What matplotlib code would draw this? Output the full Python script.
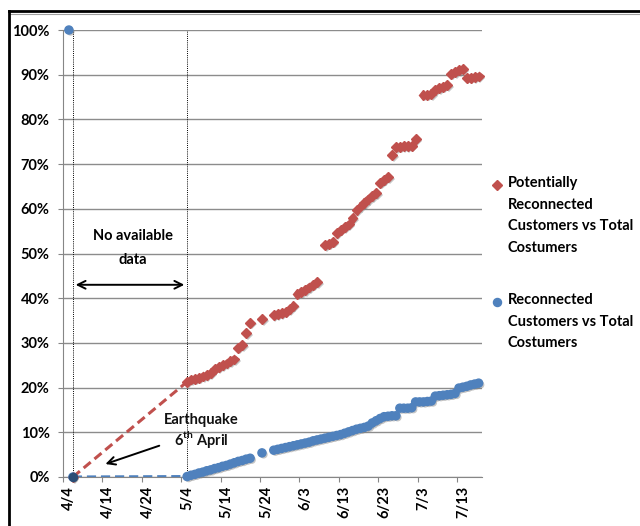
import numpy as np
import matplotlib
matplotlib.use("Agg")
import matplotlib.pyplot as plt
import matplotlib.patheffects as pe
from matplotlib.lines import Line2D

plt.rcParams['font.family'] = ['Lato', 'DejaVu Sans']
plt.rcParams['font.weight'] = 'bold'
plt.rcParams['mathtext.fontset'] = 'custom'
plt.rcParams['mathtext.rm'] = 'Lato:bold'
plt.rcParams['mathtext.bf'] = 'Lato:bold'

# x = days since 4/4
tick_labels = ['4/4', '4/14', '4/24', '5/4', '5/14', '5/24', '6/3', '6/13', '6/23', '7/3', '7/13']
quake_day = 2        # 6th April
data_start_day = 31  # first day with data after the gap

# Potentially reconnected customers vs total (%)
red_days = [2] + list(range(31, 48)) + [50] + list(range(53, 65)) + list(range(66, 90)) + list(range(91, 106))
red_pct = [0.0,
           21.3, 21.8, 22.0, 22.2, 22.5, 22.8, 23.2, 24.2, 24.6, 25.0, 25.4, 25.9, 26.3, 28.9, 29.5, 32.2, 34.5,
           35.3,
           36.2, 36.4, 36.7, 37.0, 37.5, 38.3, 41.0, 41.3, 41.8, 42.4, 43.0, 43.6,
           51.9, 52.2, 52.6, 54.6, 55.3, 55.9, 56.5, 57.9, 59.7, 60.5, 61.3, 62.1, 62.8, 63.5, 65.8, 66.5, 67.1,
           72.0, 73.8, 73.9, 74.0, 74.0, 74.1, 75.6,
           85.5, 85.5, 85.6, 86.6, 87.0, 87.3, 87.7, 90.2, 90.6, 91.0, 91.3, 89.3, 89.3, 89.5, 89.6]

# Reconnected customers vs total (%)
blue_days = [1, 2] + list(range(31, 48)) + [50] + list(range(53, 106))
blue_pct = [100.0, 0.0,
            0.1, 0.4, 0.6, 0.9, 1.1, 1.4, 1.6, 1.9, 2.1, 2.4, 2.6, 2.9, 3.2, 3.5, 3.7, 4.0, 4.2,
            5.4,
            6.0, 6.2, 6.4, 6.6, 6.8, 7.0, 7.2, 7.4, 7.6, 7.8, 8.1, 8.3, 8.5, 8.7, 8.9, 9.1, 9.3, 9.5,
            9.8, 10.1, 10.4, 10.7, 10.9, 11.1, 11.4, 12.1, 12.6, 13.1, 13.5, 13.6, 13.7, 13.7,
            15.4, 15.4, 15.4, 15.5, 16.8, 16.8, 16.8, 16.9, 17.0, 18.1, 18.2, 18.3, 18.4, 18.5, 18.7,
            19.9, 20.1, 20.3, 20.6, 20.8, 21.0]

red = '#C0504D'
blue = '#4F81BD'
shadow = [pe.SimplePatchShadow(offset=(1.2, -1.2), shadow_rgbFace='#7f7f7f', alpha=0.45), pe.Normal()]
fs = 10.5

fig = plt.figure(figsize=(6.4, 5.26), dpi=100)
ax = fig.add_axes([63 / 640, 49 / 526, 419 / 640, 447 / 526])

# frame around the picture
fig.add_artist(Line2D([9 / 640, 1], [1 - 11 / 526] * 2, color='black', lw=2))
fig.add_artist(Line2D([9 / 640, 1], [1 - 13.5 / 526] * 2, color='#a0a0a0', lw=0.8))
fig.add_artist(Line2D([9 / 640] * 2, [0, 1 - 11 / 526], color='black', lw=2))

ax.set_xlim(-0.5, 105.85)
ax.set_ylim(0, 100)

# dashed lines over the period without data
r0, r1 = red_days.index(quake_day), red_days.index(data_start_day)
b0, b1 = blue_days.index(quake_day), blue_days.index(data_start_day)
ax.plot([quake_day, data_start_day], [red_pct[r0], red_pct[r1]], color=red, lw=2.2, ls=(0, (3, 1.6)), zorder=3)
ax.plot([quake_day, data_start_day], [blue_pct[b0], blue_pct[b1]], color=blue, lw=2.2, ls=(0, (3, 1.6)), zorder=3)

ax.plot(red_days, red_pct, ls='none', marker='D', ms=5.0, color=red, mec=red,
        path_effects=shadow, zorder=4, clip_on=False)
ax.plot(blue_days, blue_pct, ls='none', marker='o', ms=5.8, color=blue, mec=blue,
        path_effects=shadow, zorder=5, clip_on=False)
ax.plot([quake_day], [blue_pct[b0]], ls='none', marker='o', ms=5.8, color='#2c4d75', zorder=6, clip_on=False)

# vertical dotted markers
for d in (quake_day, data_start_day):
    ax.axvline(d, color='black', lw=0.7, ls=(0, (1, 1.2)), zorder=2)

ax.annotate('', xy=(quake_day, 43), xytext=(data_start_day, 43),
            arrowprops=dict(arrowstyle='<->', color='black', lw=1.4, mutation_scale=14))
ax.text(17.3, 51.2, 'No available\ndata', ha='center', va='center', fontsize=fs, linespacing=1.85)

ax.annotate('', xy=(9.6, 2.7), xytext=(24.6, 7.2),
            arrowprops=dict(arrowstyle='->', color='black', lw=1.4, mutation_scale=14))
ax.text(34.5, 10.2, 'Earthquake\n6$^{\\mathrm{th}}$ April', ha='center', va='center', fontsize=fs,
        linespacing=1.15, color='#111111')

# axes styling
ax.set_yticks(np.arange(0, 101, 10))
ax.set_yticklabels([f'{v}%' for v in range(0, 101, 10)])
ax.yaxis.grid(True, color='#8c8c8c', lw=1)
ax.set_axisbelow(True)
ax.set_xticks(np.arange(-0.5, 105, 10))
ax.set_xticklabels([])
ax.set_xticks(np.arange(1, 106, 10), minor=True)
ax.set_xticklabels(tick_labels, minor=True, rotation=90)
ax.tick_params(axis='x', which='major', length=3.6, color='#868686', direction='out')
ax.tick_params(axis='x', which='minor', length=0, pad=6.5, labelsize=fs)
ax.tick_params(axis='y', length=3.6, color='#868686', pad=6, labelsize=fs)
for s in ('top', 'right'):
    ax.spines[s].set_visible(False)
for s in ('left', 'bottom'):
    ax.spines[s].set_color('#868686')

# legend
legend_items = [(red, 'D', 5.0, 1 - 185 / 526, 'Potentially\nReconnected\nCustomers vs Total\nCostumers'),
                (blue, 'o', 5.8, 1 - 302 / 526, 'Reconnected\nCustomers vs Total\nCostumers')]
for col, mk, ms, ytop, label in legend_items:
    fig.add_artist(Line2D([497 / 640], [ytop], marker=mk, ms=ms, color=col, ls='none'))
    fig.text(508 / 640, ytop + 9 / 526, label, ha='left', va='top', fontsize=fs, linespacing=1.7)

fig.savefig('out.png', dpi=100)
